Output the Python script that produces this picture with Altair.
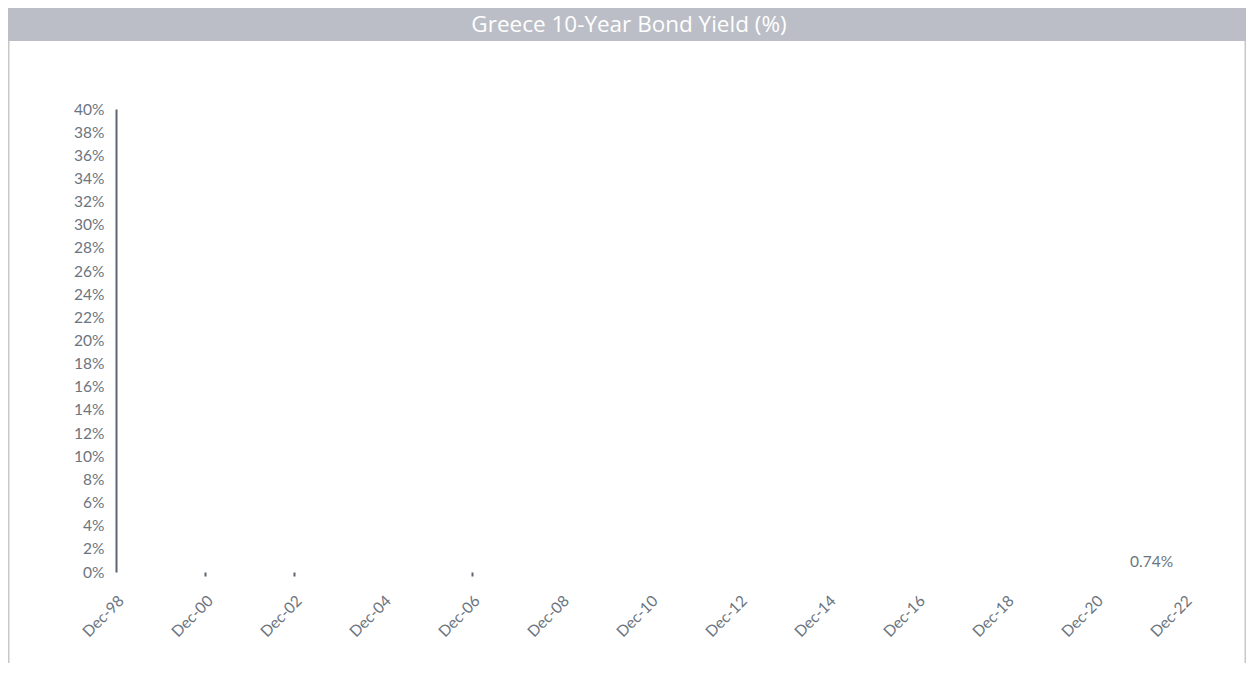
import altair as alt
import pandas as pd

# ---- data ----
title_text = "Greece 10-Year Bond Yield (%)"
label_dates = ["2022-03-10"]
label_values = [0.74]
label_texts = ["0.74%"]
tick_years = [1998, 2000, 2002, 2004, 2006, 2008, 2010, 2012, 2014, 2016, 2018, 2020, 2022]
ticked_years = [2000, 2002, 2006]
y_ticks = list(range(0, 41, 2))

W, H = 1068, 463
PAD = {"left": 108, "top": 101, "right": 62, "bottom": 91}
LABEL_COLOR = "#6B7580"
AXIS_COLOR = "#5C6670"
FONT = "Lato"
FS = 15.5

df = pd.DataFrame({"date": label_dates, "value": label_values, "label": label_texts})

x_enc = alt.X(
    "date:T",
    scale=alt.Scale(domain=[alt.DateTime(year=1998, month=12, date=1),
                            alt.DateTime(year=2022, month=12, date=1)]),
    axis=alt.Axis(
        values=[alt.DateTime(year=y, month=12, date=1) for y in tick_years],
        format="%b-%y",
        labelAngle=-45,
        labelFont=FONT,
        labelFontSize=FS,
        labelColor=LABEL_COLOR,
        labelPadding=17,
        domain=False,
        grid=False,
        tickSize=4,
        tickWidth=2,
        tickColor={"condition": {"test": "indexof(%s, year(datum.value)) >= 0" % str(ticked_years),
                                 "value": AXIS_COLOR},
                   "value": "transparent"},
        title=None,
    ),
)
y_enc = alt.Y(
    "value:Q",
    scale=alt.Scale(domain=[0, 40], nice=False),
    axis=alt.Axis(
        values=y_ticks,
        labelExpr="datum.value + '%'",
        labelFont=FONT,
        labelFontSize=FS,
        labelColor=LABEL_COLOR,
        labelPadding=12,
        ticks=False,
        grid=False,
        domainColor=AXIS_COLOR,
        domainWidth=2,
        title=None,
    ),
)

last_label = alt.Chart(df).mark_text(
    align="center", baseline="middle", dy=-1,
    font=FONT, fontSize=FS, color=LABEL_COLOR,
).encode(x=x_enc, y=y_enc, text="label:N")

one = alt.Data(values=[{"k": 1}])
total_w = PAD["left"] + W + PAD["right"]

header = alt.Chart(one).mark_rect(color="#BBBEC6").encode(
    x=alt.value(-PAD["left"]), x2=alt.value(total_w - PAD["left"]),
    y=alt.value(-PAD["top"]), y2=alt.value(-PAD["top"] + 33),
)
header_text = alt.Chart(one).mark_text(
    font="Open Sans", fontSize=22.5, color="white",
    align="center", baseline="alphabetic",
).encode(
    x=alt.value(513), y=alt.value(-77), text=alt.value(title_text)
)
left_border = alt.Chart(one).mark_rule(color="#C8C8C8", strokeWidth=1.5).encode(
    x=alt.value(-PAD["left"] + 0.75), y=alt.value(-PAD["top"] + 33), y2=alt.value(H + PAD["bottom"])
)
right_border = alt.Chart(one).mark_rule(color="#C8C8C8", strokeWidth=1.5).encode(
    x=alt.value(total_w - PAD["left"] - 0.75), y=alt.value(-PAD["top"] + 33), y2=alt.value(H + PAD["bottom"])
)

chart = alt.layer(header, header_text, left_border, right_border, last_label).properties(
    width=W, height=H,
    autosize=alt.AutoSizeParams(type="none"),
    padding=PAD,
).configure_view(stroke="transparent")

chart.save("out.html", embed_options={"renderer": "svg", "actions": False})
